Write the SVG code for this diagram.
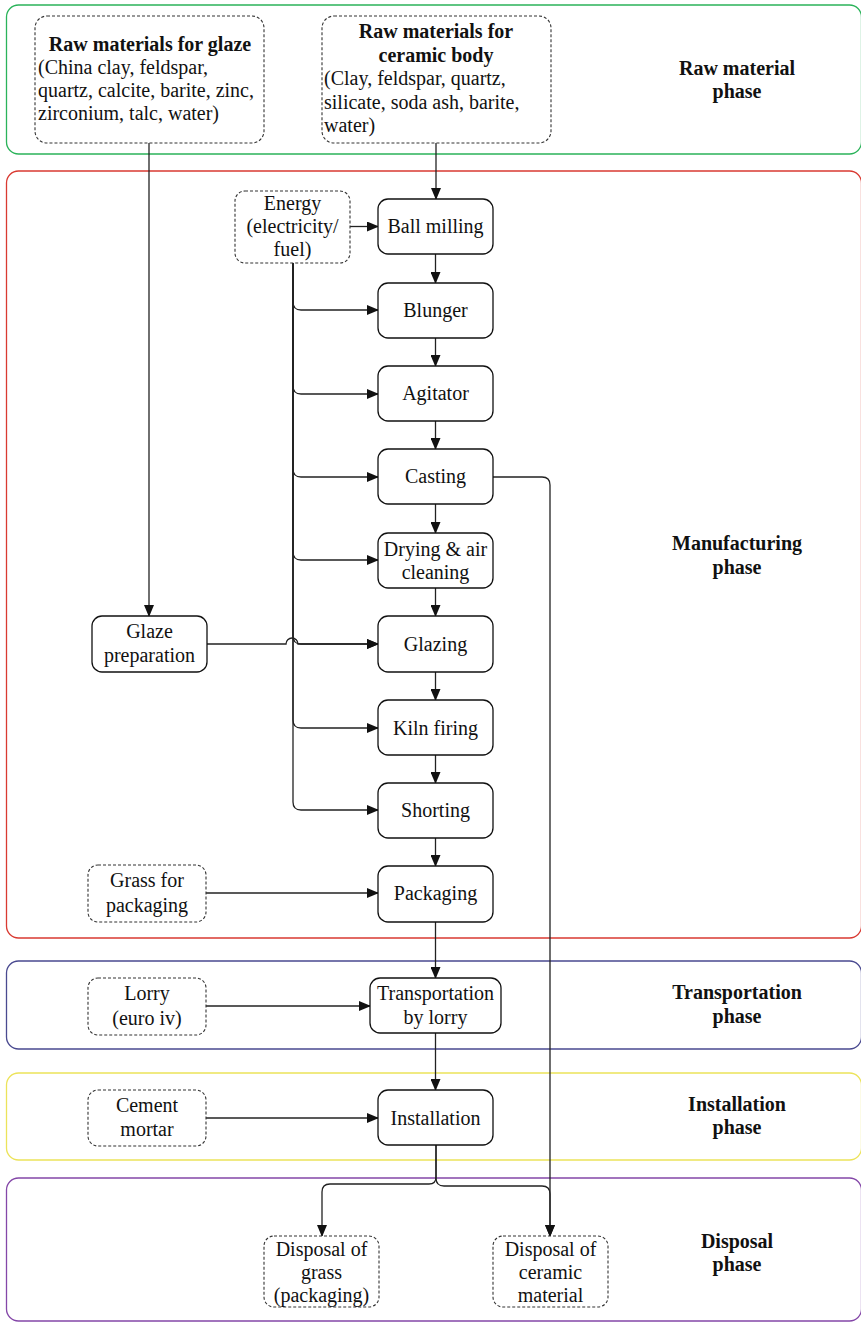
<svg xmlns="http://www.w3.org/2000/svg" width="861" height="1324" viewBox="0 0 861 1324">
  <style>
    .phase { fill: none; stroke-width: 1.3; }
    .node { fill: #fff; stroke: #111; stroke-width: 1.3; }
    .input { fill: #fff; stroke: #333; stroke-width: 1.1; stroke-dasharray: 3 2; }
    .t { font-family: 'Liberation Serif', Tinos, 'DejaVu Serif', 'Times New Roman', Times, serif; font-size: 20px; fill: #111; }
    .c { text-anchor: middle; }
    .b { font-weight: bold; }
    .edge { fill: none; stroke: #222; stroke-width: 1.3; }
  </style>
  <defs>
    <marker id="arrow" markerWidth="12" markerHeight="10" refX="11" refY="5" orient="auto" markerUnits="userSpaceOnUse">
      <path d="M0,0 L12,5 L0,10 Z" fill="#111"/>
    </marker>
  </defs>

  <!-- Life-cycle phase bands -->
  <g id="phases">
    <rect class="phase" x="6.5" y="5" width="855" height="149" rx="12" stroke="#2bb35a"/>
    <rect class="phase" x="6.5" y="171" width="855" height="767" rx="12" stroke="#d93a32"/>
    <rect class="phase" x="6.5" y="961" width="855" height="88" rx="12" stroke="#4a4a90"/>
    <rect class="phase" x="6.5" y="1073" width="855" height="87" rx="12" stroke="#ece35a"/>
    <rect class="phase" x="6.5" y="1178" width="855" height="143" rx="12" stroke="#8447a8"/>
    <text class="t b c" font-family="Liberation Serif, serif"><tspan x="737" y="75">Raw material</tspan><tspan x="737" y="98">phase</tspan></text>
    <text class="t b c"><tspan x="737" y="550">Manufacturing</tspan><tspan x="737" y="574">phase</tspan></text>
    <text class="t b c"><tspan x="737" y="999">Transportation</tspan><tspan x="737" y="1023">phase</tspan></text>
    <text class="t b c"><tspan x="737" y="1111">Installation</tspan><tspan x="737" y="1134">phase</tspan></text>
    <text class="t b c"><tspan x="737" y="1248">Disposal</tspan><tspan x="737" y="1271">phase</tspan></text>
  </g>

  <!-- Connectors -->
  <g id="connectors">
    <path class="edge" d="M149,143 V616" marker-end="url(#arrow)"/>
    <path class="edge" d="M436,143 V199" marker-end="url(#arrow)"/>
    <path class="edge" d="M350,226.5 H378" marker-end="url(#arrow)"/>
    <!-- energy feed -->
    <path class="edge" d="M293,263 V302 Q293,310 301,310 H378" marker-end="url(#arrow)"/>
    <path class="edge" d="M293,263 V386 Q293,394 301,394 H378" marker-end="url(#arrow)"/>
    <path class="edge" d="M293,263 V469 Q293,477 301,477 H378" marker-end="url(#arrow)"/>
    <path class="edge" d="M293,263 V552 Q293,560 301,560 H378" marker-end="url(#arrow)"/>
    <path class="edge" d="M293,263 V636 Q293,644 301,644 H378" marker-end="url(#arrow)"/>
    <path class="edge" d="M293,263 V720 Q293,728 301,728 H378" marker-end="url(#arrow)"/>
    <path class="edge" d="M293,263 V802 Q293,810 301,810 H378" marker-end="url(#arrow)"/>
    <!-- glaze preparation to glazing, hopping over the energy line -->
    <path class="edge" d="M207,644 H286 A6,6 0 0 1 298,644 H378" marker-end="url(#arrow)"/>
    <!-- main process chain -->
    <path class="edge" d="M435.5,254 V283" marker-end="url(#arrow)"/>
    <path class="edge" d="M435.5,338 V366" marker-end="url(#arrow)"/>
    <path class="edge" d="M435.5,421 V449" marker-end="url(#arrow)"/>
    <path class="edge" d="M435.5,504 V533" marker-end="url(#arrow)"/>
    <path class="edge" d="M435.5,588 V616" marker-end="url(#arrow)"/>
    <path class="edge" d="M435.5,672 V700" marker-end="url(#arrow)"/>
    <path class="edge" d="M435.5,755 V783" marker-end="url(#arrow)"/>
    <path class="edge" d="M435.5,838 V866" marker-end="url(#arrow)"/>
    <path class="edge" d="M435.5,922 V978" marker-end="url(#arrow)"/>
    <path class="edge" d="M435.5,1033 V1090" marker-end="url(#arrow)"/>
    <!-- side inputs -->
    <path class="edge" d="M206,893 H378" marker-end="url(#arrow)"/>
    <path class="edge" d="M206,1006 H370" marker-end="url(#arrow)"/>
    <path class="edge" d="M206,1118 H378" marker-end="url(#arrow)"/>
    <!-- casting waste to disposal -->
    <path class="edge" d="M493,477 H542 Q550,477 550,485 V1236" marker-end="url(#arrow)"/>
    <!-- installation to disposal -->
    <path class="edge" d="M436,1145 V1177 Q436,1184 429,1184 H330 Q322,1184 322,1192 V1236" marker-end="url(#arrow)"/>
    <path class="edge" d="M436,1145 V1178 Q436,1186 444,1186 H542 Q550,1186 550,1194 V1236" marker-end="url(#arrow)"/>
  </g>

  <!-- Raw material inputs -->
  <g id="raw-glaze">
    <rect class="input" x="35" y="16" width="229" height="127" rx="12"/>
    <text class="t b c" x="150" y="51">Raw materials for glaze</text>
    <text class="t"><tspan x="38" y="74">(China clay, feldspar,</tspan><tspan x="38" y="97">quartz, calcite, barite, zinc,</tspan><tspan x="38" y="120">zirconium, talc, water)</tspan></text>
  </g>
  <g id="raw-body">
    <rect class="input" x="322" y="16" width="229" height="127" rx="12"/>
    <text class="t b c"><tspan x="436" y="38">Raw materials for</tspan><tspan x="436" y="62">ceramic body</tspan></text>
    <text class="t"><tspan x="324" y="85">(Clay, feldspar, quartz,</tspan><tspan x="324" y="109">silicate, soda ash, barite,</tspan><tspan x="324" y="132">water)</tspan></text>
  </g>

  <!-- Manufacturing -->
  <g id="energy">
    <rect class="input" x="235" y="191" width="115" height="72" rx="10"/>
    <text class="t c"><tspan x="292.5" y="210">Energy</tspan><tspan x="292.5" y="233">(electricity/</tspan><tspan x="292.5" y="256">fuel)</tspan></text>
  </g>
  <g id="ball-milling">
    <rect class="node" x="378" y="199" width="115" height="55" rx="10"/>
    <text class="t c" x="435.5" y="233">Ball milling</text>
  </g>
  <g id="blunger">
    <rect class="node" x="378" y="283" width="115" height="55" rx="10"/>
    <text class="t c" x="435.5" y="317">Blunger</text>
  </g>
  <g id="agitator">
    <rect class="node" x="378" y="366" width="115" height="55" rx="10"/>
    <text class="t c" x="435.5" y="400">Agitator</text>
  </g>
  <g id="casting">
    <rect class="node" x="378" y="449" width="115" height="55" rx="10"/>
    <text class="t c" x="435.5" y="483">Casting</text>
  </g>
  <g id="drying">
    <rect class="node" x="378" y="533" width="115" height="55" rx="10"/>
    <text class="t c"><tspan x="435.5" y="556">Drying &amp; air</tspan><tspan x="435.5" y="579">cleaning</tspan></text>
  </g>
  <g id="glaze-preparation">
    <rect class="node" x="92" y="616" width="115" height="56" rx="10"/>
    <text class="t c"><tspan x="149.5" y="638">Glaze</tspan><tspan x="149.5" y="662">preparation</tspan></text>
  </g>
  <g id="glazing">
    <rect class="node" x="378" y="616" width="115" height="56" rx="10"/>
    <text class="t c" x="435.5" y="651">Glazing</text>
  </g>
  <g id="kiln-firing">
    <rect class="node" x="378" y="700" width="115" height="55" rx="10"/>
    <text class="t c" x="435.5" y="735">Kiln firing</text>
  </g>
  <g id="shorting">
    <rect class="node" x="378" y="783" width="115" height="55" rx="10"/>
    <text class="t c" x="435.5" y="817">Shorting</text>
  </g>
  <g id="grass-input">
    <rect class="input" x="88" y="865" width="118" height="57" rx="10"/>
    <text class="t c"><tspan x="147" y="887">Grass for</tspan><tspan x="147" y="912">packaging</tspan></text>
  </g>
  <g id="packaging">
    <rect class="node" x="378" y="866" width="115" height="56" rx="10"/>
    <text class="t c" x="435.5" y="900">Packaging</text>
  </g>

  <!-- Transportation -->
  <g id="lorry">
    <rect class="input" x="88" y="978" width="118" height="57" rx="10"/>
    <text class="t c"><tspan x="147" y="1000">Lorry</tspan><tspan x="147" y="1025">(euro iv)</tspan></text>
  </g>
  <g id="transportation">
    <rect class="node" x="370" y="978" width="131" height="55" rx="10"/>
    <text class="t c"><tspan x="435.5" y="1000">Transportation</tspan><tspan x="435.5" y="1024">by lorry</tspan></text>
  </g>

  <!-- Installation -->
  <g id="cement">
    <rect class="input" x="88" y="1090" width="118" height="56" rx="10"/>
    <text class="t c"><tspan x="147" y="1112">Cement</tspan><tspan x="147" y="1136">mortar</tspan></text>
  </g>
  <g id="installation">
    <rect class="node" x="378" y="1090" width="115" height="55" rx="10"/>
    <text class="t c" x="435.5" y="1125">Installation</text>
  </g>

  <!-- Disposal -->
  <g id="disposal-grass">
    <rect class="input" x="264" y="1236" width="115" height="71" rx="10"/>
    <text class="t c"><tspan x="321.5" y="1256">Disposal of</tspan><tspan x="321.5" y="1279">grass</tspan><tspan x="321.5" y="1302">(packaging)</tspan></text>
  </g>
  <g id="disposal-ceramic">
    <rect class="input" x="493" y="1236" width="115" height="71" rx="10"/>
    <text class="t c"><tspan x="550.5" y="1256">Disposal of</tspan><tspan x="550.5" y="1279">ceramic</tspan><tspan x="550.5" y="1302">material</tspan></text>
  </g>
</svg>
